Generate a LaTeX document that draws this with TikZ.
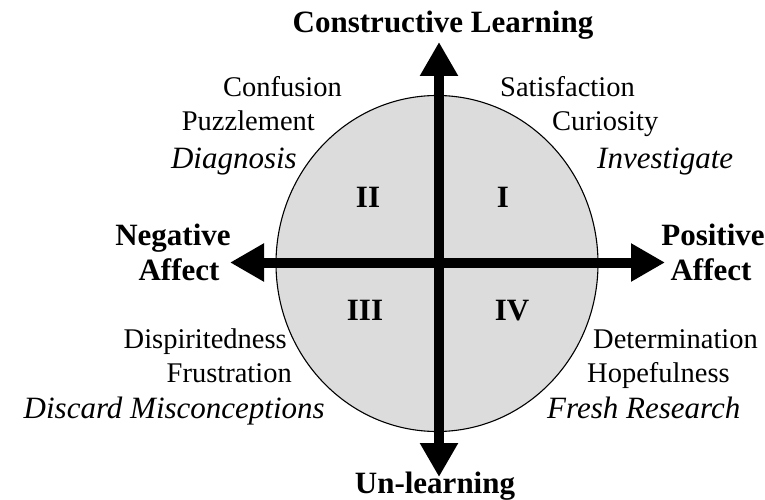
\documentclass[tikz,border=0pt]{standalone}
\usepackage{fontspec}
\setmainfont{Liberation Serif}
\usetikzlibrary{arrows.meta}
\usepackage{xcolor}
\definecolor{discgray}{HTML}{DCDCDC}

\begin{document}
\begin{tikzpicture}[
x=1pt, y=-1pt,
axis/.style={
	line width=10pt,
	{Triangle[length=34pt,width=36pt]}-{Triangle[length=34pt,width=36pt]},
},
pole/.style={font=\fontsize{31}{35}\selectfont\bfseries, inner sep=0pt, anchor=base},
quad/.style={font=\fontsize{31}{35}\selectfont\bfseries, inner sep=0pt, anchor=base},
mood/.style={font=\fontsize{28.5}{33}\selectfont, inner sep=0pt},
act/.style={font=\fontsize{31}{35}\selectfont\itshape, inner sep=0pt},
]
\useasboundingbox (0,0) rectangle (765,500);

% the disc
\draw[fill=discgray, line width=1.1pt] (437,263.5) ellipse [x radius=161pt, y radius=168pt];

% axes
\coordinate (top) at (439,42);
\coordinate (bottom) at (439,477);
\coordinate (left) at (230,262.5);
\coordinate (right) at (665,262.5);
\draw[axis] (bottom) -- (top);
\draw[axis] (left) -- (right);

% axis names
\node[pole] (constructive) at (443,33) {Constructive Learning};
\node[pole] (unlearning) at (435,493) {Un-learning};
\node[pole] (negative) at (173,245) {Negative};
\node[pole] (negaffect) at (179,280) {Affect};
\node[pole] (positive) at (713,245) {Positive};
\node[pole] (posaffect) at (711,280) {Affect};

% quadrants
\node[quad] (q1) at (503,207) {I};
\node[quad] (q2) at (368,207) {II};
\node[quad] (q3) at (365,320) {III};
\node[quad] (q4) at (512,320) {IV};

% quadrant II
\node[mood, anchor=base east] (confusion) at (342,97) {Confusion};
\node[mood, anchor=base east] (puzzlement) at (315,130) {Puzzlement};
\node[act, anchor=base east] (diagnosis) at (297,168) {Diagnosis};

% quadrant I
\node[mood, anchor=base west] (satisfaction) at (500,97) {Satisfaction};
\node[mood, anchor=base west] (curiosity) at (552,130) {Curiosity};
\node[act, anchor=base west] (investigate) at (597,168) {Investigate};

% quadrant III
\node[mood, anchor=base east] (dispirit) at (287,348) {Dispiritedness};
\node[mood, anchor=base east] (frustration) at (292,382) {Frustration};
\node[act, anchor=base east] (discard) at (325,418) {Discard Misconceptions};

% quadrant IV
\node[mood, anchor=base west] (determination) at (593,348) {Determination};
\node[mood, anchor=base west] (hopefulness) at (587,382) {Hopefulness};
\node[act, anchor=base west] (fresh) at (547,418) {Fresh Research};
\end{tikzpicture}
\end{document}
